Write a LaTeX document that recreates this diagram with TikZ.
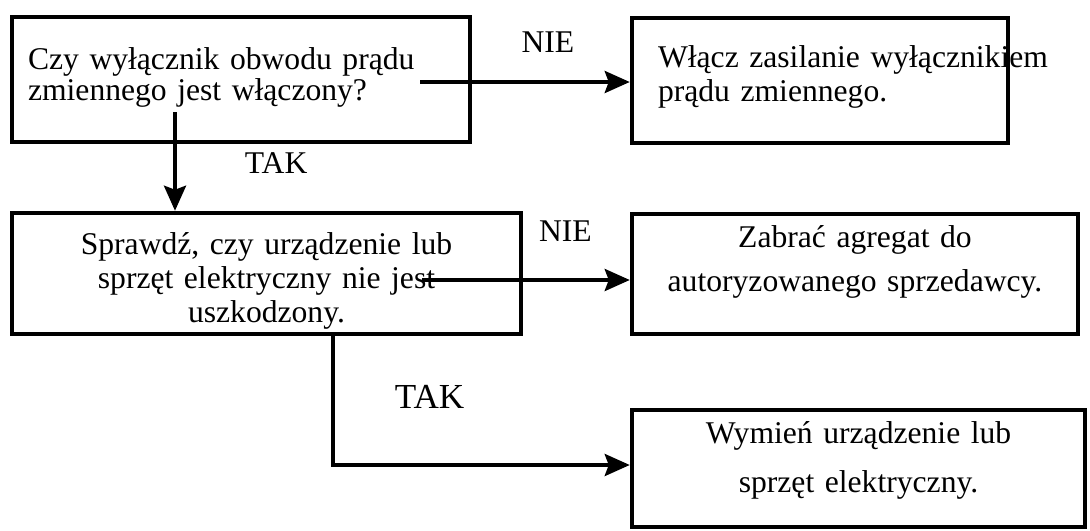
\documentclass[tikz,border=0pt]{standalone}
\usepackage{fontspec}
\setmainfont{Liberation Serif}
\usetikzlibrary{arrows.meta}
\usetikzlibrary{positioning}

\begin{document}
\begin{tikzpicture}[
    x=0.02cm, y=-0.02cm,
    every node/.style={font=\fontsize{18pt}{18.2pt}\selectfont},
    box/.style={rectangle, draw, line width=2.6pt, inner xsep=0.32cm, inner ysep=0pt, text height=0.4cm},
    edge label/.style={rectangle, draw=none, inner sep=0pt},
  every path/.style={line width=2.2pt},
  ]
\tikzset{>={Stealth[length=0.5cm, width=0.44cm, inset=0.08cm]}}

  \useasboundingbox (0,0) rectangle (1090,531);

  \node[box, minimum width=9.16cm, minimum height=2.5cm, text width=8.52cm, align=left, text height=0.48cm, text depth=0.9cm] (wylacznik) at (241,79.5) {Czy wyłącznik obwodu prądu\\zmiennego jest włączony?};
  \node[box, minimum width=7.52cm, minimum height=2.5cm, inner xsep=0.52cm, text width=6.48cm, align=left, text height=0.44cm, text depth=0.98cm, font=\fontsize{18pt}{19.9pt}\selectfont] (zasil) at (820,80.5) {\mbox{Włącz zasilanie wyłącznikiem}\\prądu zmiennego.};
  \node[box, minimum width=10.18cm, minimum height=2.42cm, text width=9.54cm, align=center, text height=0.44cm, text depth=1.22cm, font=\fontsize{18pt}{19.5pt}\selectfont] (spraw) at (266.5,273.5) {Sprawdź, czy urządzenie lub\\sprzęt elektryczny nie jest\\uszkodzony.};
  \node[box, minimum width=8.92cm, minimum height=2.4cm, text width=8.28cm, align=center, text height=0.44cm, text depth=1.52cm, font=\fontsize{18pt}{25.5pt}\selectfont] (agreg) at (855,274) {Zabrać agregat do\\autoryzowanego sprzedawcy.};
  \node[box, minimum width=9.06cm, minimum height=2.34cm, text width=8.42cm, align=center, text depth=1.42cm, font=\fontsize{18pt}{28.4pt}\selectfont] (wymien) at (858.5,468.5) {Wymień urządzenie lub\\sprzęt elektryczny.};

  \coordinate (nieA) at (420,82);
  \coordinate (takA) at (175,112);
  \coordinate (nieB) at (422,280);
  \coordinate (zakret) at (333,465);

  \draw[->] (nieA) -- node[edge label, above=0.56cm, pos=0.61] (nie1) {NIE} (nieA -| zasil.west);
  \draw[->] (takA) -- node[edge label, right=1.36cm, pos=0.52] (tak1) {TAK} (takA |- spraw.north);
  \draw[->] (nieB) -- node[edge label, above=0.74cm, pos=0.69] (nie2) {NIE} (nieB -| agreg.west);
  \draw[->] (spraw.south -| zakret) -- node[edge label, right=1.2cm, pos=0.47, font=\fontsize{20pt}{22pt}\selectfont] (tak2) {TAK} (zakret) -- (zakret -| wymien.west);

  \end{tikzpicture}
\end{document}
